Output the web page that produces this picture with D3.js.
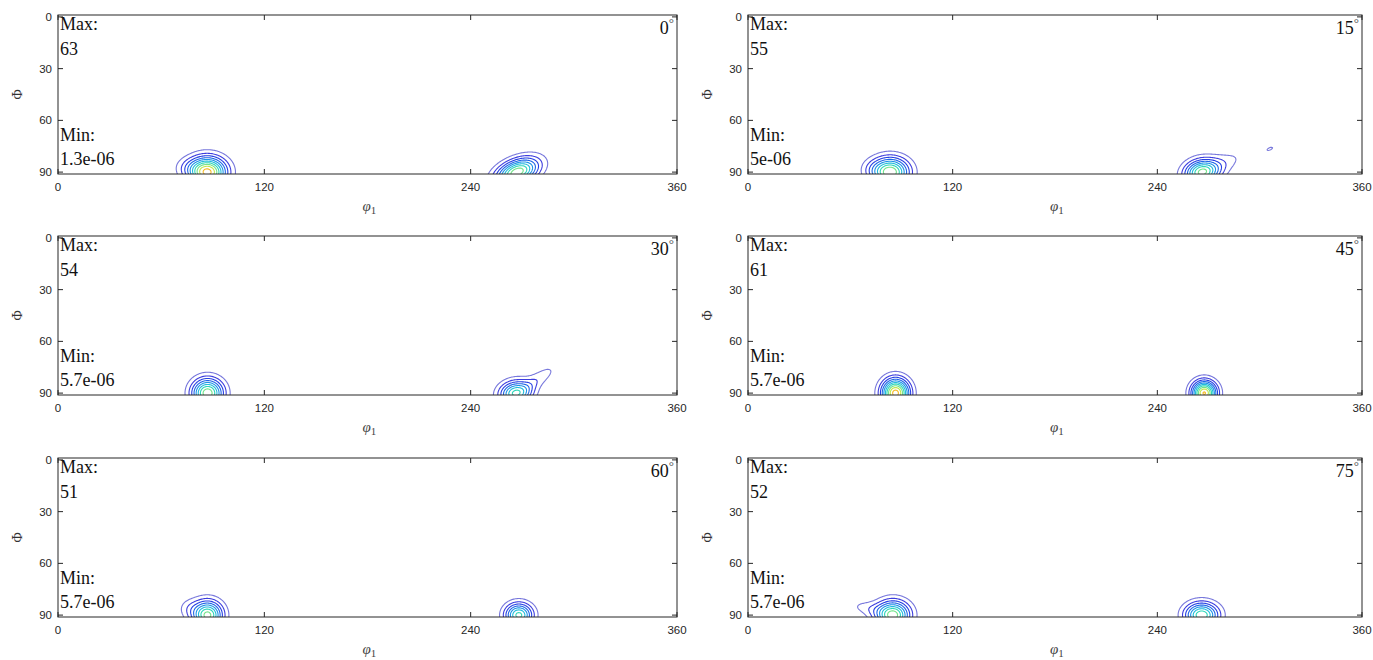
<!DOCTYPE html>
<html>
<head>
<meta charset="utf-8">
<script src="https://cdn.jsdelivr.net/npm/d3@7"></script>
<style>
  body { margin: 0; background: #fff; }
  svg { display: block; }
</style>
</head>
<body>
<svg id="chart" width="1373" height="660"></svg>
<script>
// section angles (phi2), max / min annotations
const sectionAngles = ["0", "15", "30", "45", "60", "75"];
const maxLabels = ["63", "55", "54", "61", "51", "52"];
const minLabels = ["1.3e-06", "5e-06", "5.7e-06", "5.7e-06", "5.7e-06", "5.7e-06"];
const phi1Ticks = [0, 120, 240, 360];
const PhiTicks = [0, 30, 60, 90];
const contourLevels = [5.7, 11.5, 17.2, 22.9, 28.6, 34.4, 40.1, 45.8, 51.5, 57.3];

// peak components read off each section:
// [phi1, Phi, sigma along, sigma across, height, tilt in degrees]
const peaks0 = [[87, 90, 7.5, 6, 59, 0], [76, 87, 6, 4, 6, 0], [267, 90, 9, 4.8, 50, -22]];
const peaks15 = [[83.5, 90, 7.5, 5.8, 51, 0], [73, 88, 5, 4, 5, 0], [266, 90, 7, 5, 43, -10], [276, 86, 12, 4, 8, -22], [306, 76.5, 2.6, 1, 6.9, -25]];
const peaks30 = [[87, 90, 6.3, 5.8, 50, 0], [266, 90, 6.5, 4.8, 40, -10], [279, 82, 9.5, 3.1, 9, -35]];
const peaks45 = [[86.5, 90, 5.6, 5.8, 60, 0], [267.5, 90, 5, 4.9, 58, 0]];
const peaks60 = [[87, 90, 6, 5.7, 48, 0], [76, 86, 4.5, 4, 6.5, 0], [268, 90, 5.6, 4.8, 42, 0]];
const peaks75 = [[85, 90, 6.8, 5.7, 49, 0], [70, 86, 8, 3, 7, 10], [266, 90, 6.8, 5, 45, 0]];
const sectionPeaks = [peaks0, peaks15, peaks30, peaks45, peaks60, peaks75];

const svg = d3.select("#chart");

const colX = [[58, 677], [748, 1362]];
const rowY = [15, 236, 458];
const panelH = 159;
const axisColor = "#262626";

// white -> jet colormap
const cmap = d3.scaleLinear()
    .domain([0, 0.1, 0.22, 0.38, 0.52, 0.64, 0.76, 0.86, 0.94, 1])
    .range(["#ffffff", "#6a6ad8", "#2a2ae0", "#1f6ee8", "#1fb6e6", "#30d8b8", "#8ee878", "#e8e830", "#ffa020", "#ff3010"])
    .clamp(true);

const step = 0.5;
const gx = d3.range(0, 360 + step, step);
const gy = d3.range(-2, 100 + step, step);

sectionAngles.forEach((ang, k) => {
    const col = k % 2, row = Math.floor(k / 2);
    const [x0, x1] = colX[col];
    const top = rowY[row], bottom = top + panelH;

    const x = d3.scaleLinear().domain([0, 360]).range([x0, x1]);
    const y = d3.scaleLinear().domain([-1.1, 91.1]).range([top, bottom]);

    const g = svg.append("g");

    // density grid from the peaks
    const peaks = sectionPeaks[k];
    const values = new Float64Array(gx.length * gy.length);
    gy.forEach((P, j) => {
        gx.forEach((p, i) => {
            let v = 0;
            peaks.forEach(([cp, cP, su, sv, h, rot]) => {
                const a = rot * Math.PI / 180;
                const dp = p - cp, dP = P - cP;
                const u = (dp * Math.cos(a) + dP * Math.sin(a)) / su;
                const w = (-dp * Math.sin(a) + dP * Math.cos(a)) / sv;
                v += h * Math.exp(-0.5 * (u * u + w * w));
            });
            values[j * gx.length + i] = v;
        });
    });

    const contours = d3.contours()
        .size([gx.length, gy.length])
        .thresholds(contourLevels)(values);

    const proj = d3.geoTransform({
        point: function (px, py) {
            this.stream.point(x((px - 0.5) * step), y(-2 + (py - 0.5) * step));
        }
    });
    const path = d3.geoPath(proj);

    g.append("clipPath")
        .attr("id", "clip" + k)
        .append("rect")
        .attr("x", x0).attr("y", top)
        .attr("width", x1 - x0).attr("height", panelH);

    g.append("g")
        .attr("clip-path", `url(#clip${k})`)
        .selectAll("path")
        .data(contours)
        .join("path")
        .attr("d", path)
        .attr("fill", "none")
        .attr("stroke", d => cmap(d.value / 63))
        .attr("stroke-width", 1.1);

    // box
    g.append("rect")
        .attr("x", x0).attr("y", top)
        .attr("width", x1 - x0).attr("height", panelH)
        .attr("fill", "none")
        .attr("stroke", axisColor)
        .attr("stroke-width", 1);

    // ticks (inward, all four sides)
    phi1Ticks.forEach(t => {
        g.append("line").attr("x1", x(t)).attr("x2", x(t)).attr("y1", bottom).attr("y2", bottom - 5)
            .attr("stroke", axisColor);
        g.append("line").attr("x1", x(t)).attr("x2", x(t)).attr("y1", top).attr("y2", top + 5)
            .attr("stroke", axisColor);
    });
    PhiTicks.forEach(t => {
        g.append("line").attr("x1", x0).attr("x2", x0 + 5).attr("y1", y(t)).attr("y2", y(t))
            .attr("stroke", axisColor);
        g.append("line").attr("x1", x1).attr("x2", x1 - 5).attr("y1", y(t)).attr("y2", y(t))
            .attr("stroke", axisColor);
    });

    g.selectAll("text.xt")
        .data(phi1Ticks)
        .join("text")
        .attr("class", "xt")
        .attr("x", d => x(d))
        .attr("y", bottom + 17)
        .attr("text-anchor", "middle")
        .attr("font-family", "Liberation Sans, Arial, sans-serif")
        .attr("font-size", 11.5)
        .attr("fill", axisColor)
        .text(d => d);

    g.selectAll("text.yt")
        .data(PhiTicks)
        .join("text")
        .attr("class", "yt")
        .attr("x", x0 - 6)
        .attr("y", d => y(d) + 4)
        .attr("text-anchor", "end")
        .attr("font-family", "Liberation Sans, Arial, sans-serif")
        .attr("font-size", 11.5)
        .attr("fill", axisColor)
        .text(d => d);

    // axis titles
    const xt = g.append("text")
        .attr("x", (x0 + x1) / 2 - 5)
        .attr("y", bottom + 37)
        .attr("font-family", "Liberation Serif, serif")
        .attr("font-size", 15)
        .attr("fill", "#444");
    xt.append("tspan").attr("font-style", "italic").text("φ");
    xt.append("tspan").attr("font-size", 11).attr("dy", 3).text("1");

    g.append("text")
        .attr("transform", `translate(${x0 - 36},${(top + bottom) / 2}) rotate(-90)`)
        .attr("text-anchor", "middle")
        .attr("font-family", "Liberation Serif, serif")
        .attr("font-size", 14)
        .attr("fill", "#333")
        .text("Φ");

    // annotations
    const serif = "Liberation Serif, Times New Roman, serif";
    [["Max:", 15], [maxLabels[k], 40], ["Min:", 126], [minLabels[k], 150]].forEach(([s, dy]) => {
        g.append("text")
            .attr("x", x0 + 2)
            .attr("y", top + dy)
            .attr("font-family", serif)
            .attr("font-size", 18)
            .attr("fill", "#111")
            .text(s);
    });

    const at = g.append("text")
        .attr("x", x1 - 3)
        .attr("y", top + 19)
        .attr("text-anchor", "end")
        .attr("font-family", serif)
        .attr("font-size", 18)
        .attr("fill", "#111");
    at.append("tspan").text(ang);
    at.append("tspan").attr("font-size", 13).attr("dy", -7).attr("fill", "#555").text("°");
});
</script>
</body>
</html>
